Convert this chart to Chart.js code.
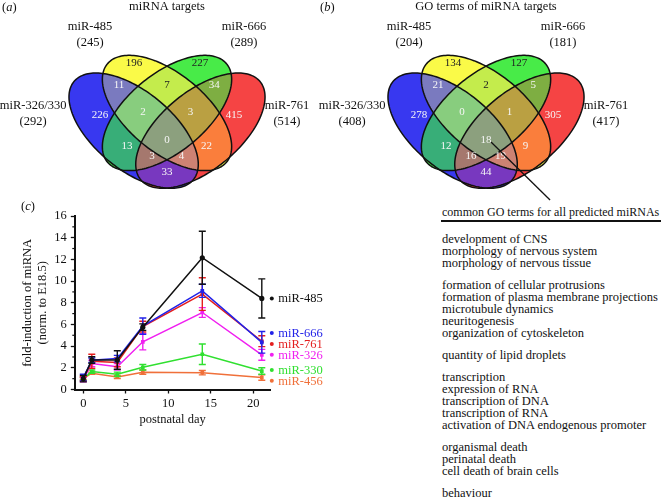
<!DOCTYPE html>
<html>
<head>
<meta charset="utf-8">
<script src="https://cdn.jsdelivr.net/npm/chart.js@4.4.1/dist/chart.umd.min.js"></script>
<style>
  body { margin: 0; background: #fff; }
  #page { position: relative; width: 667px; height: 500px; overflow: hidden;
          font-family: 'Liberation Serif', 'Times New Roman', serif; color: #111; }
  canvas { position: absolute; }
  .tag { position: absolute; font-size: 12.5px; line-height: 14px; }
  #goHead { position: absolute; left: 442px; top: 206px; font-size: 12px; line-height: 12px; white-space: nowrap; }
  #goRule { position: absolute; left: 441px; top: 220px; width: 220px; height: 1.5px; background: #111; }
  #goList { position: absolute; left: 442px; top: 233px; font-size: 12.5px; line-height: 12px; white-space: nowrap; }
  #goList .grp { margin-bottom: 10px; }
</style>
</head>
<body>
<div id="page">
  <canvas id="vennA" width="320" height="205" style="left:0;top:0"></canvas>
  <canvas id="vennB" width="320" height="205" style="left:319px;top:0"></canvas>
  <canvas id="lineC" width="340" height="250" style="left:0;top:190px"></canvas>
  <div class="tag" style="left:2px;top:0">(<i>a</i>)</div>
  <div class="tag" style="left:320px;top:0">(<i>b</i>)</div>
  <div class="tag" style="left:21px;top:199px">(<i>c</i>)</div>
  <div id="goHead">common GO terms for all predicted miRNAs</div>
  <div id="goRule"></div>
  <div id="goList"></div>
</div>
<script>
// ---- data ----
// sets: A = miR-326/330, B = miR-485, C = miR-666, D = miR-761
const setNames = ['miR-326/330', 'miR-485', 'miR-666', 'miR-761'];
const totalsTargets = [292, 245, 289, 514];
const totalsGO = [408, 204, 181, 417];
const regionKeys = ['A', 'B', 'C', 'D', 'AB', 'BC', 'CD', 'ABC', 'BCD', 'ABCD', 'AC', 'BD', 'ACD', 'ABD', 'AD'];
const countsTargets = [226, 196, 227, 415, 11, 7, 34, 2, 3, 0, 13, 22, 3, 4, 33];
const countsGO = [278, 134, 127, 305, 21, 2, 5, 0, 1, 18, 12, 9, 16, 19, 44];

const days = [0, 1, 4, 7, 14, 21];
const mirNames = ['miR-485', 'miR-666', 'miR-761', 'miR-326', 'miR-330', 'miR-456'];
const mir485 = [1.0, 2.72, 2.72, 5.75, 12.15, 8.4];
const mir666 = [1.1, 2.7, 2.85, 5.85, 9.1, 4.35];
const mir761 = [1.0, 2.6, 2.5, 5.8, 8.8, 4.45];
const mir326 = [0.9, 2.4, 2.1, 4.4, 7.1, 3.2];
const mir330 = [1.0, 1.65, 1.4, 2.05, 3.25, 1.7];
const mir456 = [1.0, 1.5, 1.15, 1.6, 1.55, 1.1];
const err485 = [0.3, 0.3, 0.85, 0.3, 2.45, 1.8];
const err666 = [0.3, 0.2, 0.3, 0.75, 0.6, 1.0];
const err761 = [0.2, 0.65, 0.4, 0.5, 1.5, 0.5];
const err326 = [0.2, 0.3, 0.3, 0.75, 0.45, 0.5];
const err330 = [0.15, 0.15, 0.2, 0.25, 0.95, 0.3];
const err456 = [0.1, 0.1, 0.15, 0.2, 0.2, 0.25];
const yTicks = [0, 2, 4, 6, 8, 10, 12, 14, 16];
const xTicks = [0, 5, 10, 15, 20];

const goGroups = [
  ['development of CNS', 'morphology of nervous system', 'morphology of nervous tissue'],
  ['formation of cellular protrusions', 'formation of plasma membrane projections', 'microtubule dynamics', 'neuritogenesis', 'organization of cytoskeleton'],
  ['quantity of lipid droplets'],
  ['transcription', 'expression of RNA', 'transcription of DNA', 'transcription of RNA', 'activation of DNA endogenous promoter'],
  ['organismal death', 'perinatal death', 'cell death of brain cells'],
  ['behaviour']
];

// ---- venn layout, in diagram units (0..1, y up) ----
const ellipses = {
  A: { cx: 0.34, cy: 0.475, a: 0.39, b: 0.2, rot: 135 },
  B: { cx: 0.50, cy: 0.570, a: 0.39, b: 0.2, rot: 135 },
  C: { cx: 0.50, cy: 0.570, a: 0.39, b: 0.2, rot: 45 },
  D: { cx: 0.66, cy: 0.475, a: 0.39, b: 0.2, rot: 45 }
};
const regionColors = {
  A: '#3838f0', B: '#fafa48', C: '#48eb48', D: '#f54444',
  AB: '#7a7abf', BC: '#c4ec4c', CD: '#7eae42', AC: '#38ae78', BD: '#fa7e3c', AD: '#7838bf',
  ABC: '#88cd7e', BCD: '#baa042', ABCD: '#8ca07e', ACD: '#a5786e', ABD: '#cd8273'
};
const labelAt = {
  A: [0.179, 0.559], B: [0.342, 0.839], C: [0.658, 0.839], D: [0.821, 0.559],
  AB: [0.270, 0.720], BC: [0.500, 0.720], CD: [0.727, 0.720],
  ABC: [0.385, 0.575], BCD: [0.613, 0.575], ABCD: [0.500, 0.425],
  AC: [0.308, 0.392], BD: [0.689, 0.392], ACD: [0.428, 0.339], ABD: [0.570, 0.339], AD: [0.500, 0.253]
};
const setLabelAt = [[-0.142, 0.607], [0.131, 1.032], [0.869, 1.032], [1.075, 0.607]];
const darkText = ['B', 'C', 'BC'];
const FONT = '"Liberation Serif", "Times New Roman", serif';

const vennPlugin = {
  id: 'venn',
  afterDatasetsDraw(chart, args, opts) {
    const { ctx, scales: { x, y } } = chart;
    const path = e => {
      const r = e.rot * Math.PI / 180, cr = Math.cos(r), sr = Math.sin(r);
      ctx.beginPath();
      for (let i = 0; i <= 180; i++) {
        const p = i / 180 * Math.PI * 2;
        const u = e.a * Math.cos(p), v = e.b * Math.sin(p);
        const px = x.getPixelForValue(e.cx + u * cr - v * sr);
        const py = y.getPixelForValue(e.cy + u * sr + v * cr);
        if (i) ctx.lineTo(px, py); else ctx.moveTo(px, py);
      }
      ctx.closePath();
    };
    // paint regions, smaller set-combinations first
    const order = regionKeys.slice().sort((p, q) => p.length - q.length);
    order.forEach(key => {
      ctx.save();
      for (const ch of key) { path(ellipses[ch]); ctx.clip(); }
      ctx.fillStyle = regionColors[key];
      ctx.fillRect(0, 0, chart.width, chart.height);
      ctx.restore();
    });
    ctx.save();
    ctx.lineWidth = 1.5;
    ctx.strokeStyle = '#111';
    'ABCD'.split('').forEach(ch => { path(ellipses[ch]); ctx.stroke(); });

    ctx.textAlign = 'center';
    ctx.textBaseline = 'middle';
    ctx.font = '11px ' + FONT;
    const meta = chart.getDatasetMeta(0);
    meta.data.forEach((pt, i) => {
      ctx.fillStyle = darkText.includes(regionKeys[i]) ? '#222' : '#f6f6f6';
      ctx.fillText(String(opts.counts[i]), pt.x, pt.y);
    });

    ctx.fillStyle = '#111';
    ctx.font = '12.5px ' + FONT;
    setNames.forEach((name, i) => {
      const [lx, ly] = setLabelAt[i];
      const px = x.getPixelForValue(lx), py = y.getPixelForValue(ly);
      ctx.fillText(name, px, py);
      ctx.fillText('(' + opts.totals[i] + ')', px, py + 16);
    });
    ctx.fillText(opts.title, x.getPixelForValue(0.5), y.getPixelForValue(1.14));

    if (opts.pointer) {
      ctx.lineWidth = 1.3;
      ctx.beginPath();
      ctx.moveTo(x.getPixelForValue(0.524), y.getPixelForValue(0.414));
      ctx.lineTo(x.getPixelForValue(0.807), y.getPixelForValue(0.102));
      ctx.stroke();
    }
    ctx.restore();
  }
};

function vennChart(id, title, totals, counts, pointer) {
  return new Chart(document.getElementById(id), {
    type: 'scatter',
    data: {
      datasets: [{
        data: regionKeys.map(key => ({ x: labelAt[key][0], y: labelAt[key][1] })),
        pointRadius: 0
      }]
    },
    options: {
      responsive: false,
      animation: false,
      layout: { padding: 0 },
      plugins: {
        legend: { display: false },
        tooltip: { enabled: false },
        venn: { title, totals, counts, pointer }
      },
      scales: {
        x: { type: 'linear', display: false, min: -0.3006, max: 1.2334 },
        y: { type: 'linear', display: false, min: 0.0753, max: 1.1774 }
      }
    },
    plugins: [vennPlugin]
  });
}

vennChart('vennA', 'miRNA targets', totalsTargets, countsTargets, false);
vennChart('vennB', 'GO terms of miRNA targets', totalsGO, countsGO, true);

// ---- line chart (c) ----
const series = [mir485, mir666, mir761, mir326, mir330, mir456];
const errs = [err485, err666, err761, err326, err330, err456];
const colors = ['#111111', '#2222e8', '#e41e1e', '#f020f0', '#30e030', '#f0703a'];
const legendAt = [8.4, 5.2, 4.2, 3.2, 1.8, 0.8];

const errorBars = {
  id: 'errorBars',
  afterDatasetDraw(chart, args) {
    const { ctx, scales: { y } } = chart;
    const ds = chart.data.datasets[args.index];
    ctx.save();
    ctx.strokeStyle = ds.borderColor;
    ctx.lineWidth = 1.4;
    args.meta.data.forEach((pt, i) => {
      const v = ds.data[i].y, e = ds.errors[i];
      const top = y.getPixelForValue(v + e), bot = y.getPixelForValue(v - e);
      ctx.beginPath();
      ctx.moveTo(pt.x, top); ctx.lineTo(pt.x, bot);
      ctx.moveTo(pt.x - 3.5, top); ctx.lineTo(pt.x + 3.5, top);
      ctx.moveTo(pt.x - 3.5, bot); ctx.lineTo(pt.x + 3.5, bot);
      ctx.stroke();
    });
    ctx.restore();
  },
  afterDraw(chart) {
    const { ctx, chartArea, scales: { y } } = chart;
    ctx.save();
    // minor ticks on the y axis
    ctx.strokeStyle = '#111';
    ctx.lineWidth = 1.2;
    for (let v = 1; v < 16; v += 2) {
      const py = y.getPixelForValue(v);
      ctx.beginPath(); ctx.moveTo(chartArea.left - 2.5, py); ctx.lineTo(chartArea.left, py); ctx.stroke();
    }
    // series names at the right end
    ctx.font = '12.5px ' + FONT;
    ctx.textBaseline = 'middle';
    mirNames.forEach((name, i) => {
      const py = y.getPixelForValue(legendAt[i]);
      ctx.fillStyle = colors[i];
      ctx.beginPath(); ctx.arc(chartArea.right + 1.5, py, 2, 0, Math.PI * 2); ctx.fill();
      ctx.fillText(name, chartArea.right + 8, py + 0.5);
    });
    ctx.restore();
  }
};

new Chart(document.getElementById('lineC'), {
  type: 'scatter',
  data: {
    datasets: series.map((vals, i) => ({
      label: mirNames[i],
      data: days.map((d, j) => ({ x: d, y: vals[j] })),
      errors: errs[i],
      showLine: true,
      borderColor: colors[i],
      backgroundColor: colors[i],
      borderWidth: 1.5,
      pointRadius: 2.6,
      pointStyle: i === 0 ? 'circle' : 'rect',
      pointBorderWidth: 0
    }))
  },
  options: {
    responsive: false,
    animation: false,
    layout: { padding: { left: 0, top: 26, right: 69.7, bottom: 0 } },
    plugins: { legend: { display: false }, tooltip: { enabled: false } },
    scales: {
      x: {
        type: 'linear', min: -1, max: 22,
        afterFit: s => { s.height = 50.5; },
        afterBuildTicks: s => { s.ticks = xTicks.map(v => ({ value: v })); },
        ticks: { color: '#111', font: { family: FONT, size: 12.5 }, padding: 3, includeBounds: false },
        grid: { drawOnChartArea: false, color: '#111', tickLength: 4, tickWidth: 1.3 },
        border: { display: true, color: '#111', width: 2 },
        title: { display: true, text: 'postnatal day', color: '#111', font: { family: FONT, size: 12.5, lineHeight: 1.2 }, padding: { top: 0, bottom: 12.5 } }
      },
      y: {
        type: 'linear', min: 0, max: 16,
        afterFit: s => { s.width = 74.8; },
        afterBuildTicks: s => { s.ticks = yTicks.map(v => ({ value: v })); },
        ticks: { color: '#111', font: { family: FONT, size: 12.5 }, padding: 4 },
        grid: { drawOnChartArea: false, color: '#111', tickLength: 4, tickWidth: 1.3 },
        border: { display: true, color: '#111', width: 2 },
        title: { display: true, text: ['fold-induction of miRNA', '(norm. to E18.5)'], color: '#111', font: { family: FONT, size: 12.5, lineHeight: 1.2 }, padding: { top: 20.5, bottom: 0 } }
      }
    }
  },
  plugins: [errorBars]
});

// ---- GO term list ----
const list = document.getElementById('goList');
goGroups.forEach(g => {
  const div = document.createElement('div');
  div.className = 'grp';
  div.innerHTML = g.map(t => '<div>' + t + '</div>').join('');
  list.appendChild(div);
});
</script>
</body>
</html>
